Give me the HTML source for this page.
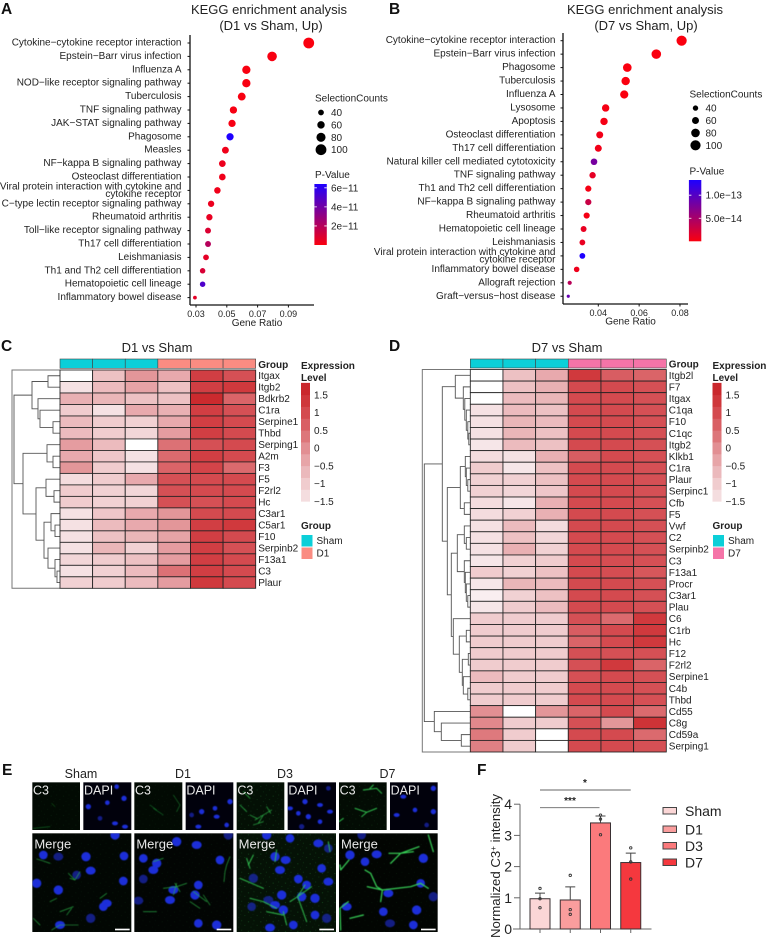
<!DOCTYPE html>
<html lang="en">
<head>
<meta charset="utf-8">
<title>KEGG enrichment, heatmaps and C3 staining figure</title>
<style>
html,body{margin:0;padding:0;background:#fff;}
svg{display:block;font-family:"Liberation Sans",Arial,sans-serif;fill:#222;}
.letter{font-size:15.5px;font-weight:bold;fill:#111;}
.title{font-size:13px;text-anchor:middle;}
</style>
</head>
<body>
<svg id="fig" xmlns="http://www.w3.org/2000/svg" width="766" height="938" viewBox="0 0 766 938">
<defs>
<filter id="soft" x="-5%" y="-5%" width="110%" height="110%"><feGaussianBlur stdDeviation="1.2"/></filter>
<pattern id="speckle" width="37" height="29" patternUnits="userSpaceOnUse">
<rect x="4" y="6" width="3" height="3" fill="#2a9a40"/><rect x="21" y="2" width="2" height="4" fill="#1f7a32"/><rect x="30" y="17" width="3" height="2" fill="#2a9a40"/><rect x="12" y="22" width="2" height="3" fill="#1f7a32"/><rect x="18" y="13" width="2" height="2" fill="#185f28"/>
</pattern>
</defs>
<rect width="766" height="938" fill="#fff"/>
<text class="letter" x="1" y="14">A</text>
<text class="letter" x="389" y="14">B</text>
<text class="letter" x="1" y="351">C</text>
<text class="letter" x="389" y="351">D</text>
<text class="letter" x="2" y="775">E</text>
<text class="letter" x="477" y="775">F</text>
<text class="title" x="269" y="14">KEGG enrichment analysis</text>
<text class="title" x="271" y="30">(D1 vs Sham, Up)</text>
<text class="title" x="645" y="14">KEGG enrichment analysis</text>
<text class="title" x="646" y="30">(D7 vs Sham, Up)</text>
<text class="title" x="157" y="352">D1 vs Sham</text>
<text class="title" x="567" y="352">D7 vs Sham</text>
</svg>
<script>
// ---------- Panel A data ----------
const pathwaysA = ["Cytokine\u2212cytokine receptor interaction","Epstein\u2212Barr virus infection","Influenza A","NOD\u2212like receptor signaling pathway","Tuberculosis","TNF signaling pathway","JAK\u2212STAT signaling pathway","Phagosome","Measles","NF\u2212kappa B signaling pathway","Osteoclast differentiation","Viral protein interaction with cytokine and|cytokine receptor","C\u2212type lectin receptor signaling pathway","Rheumatoid arthritis","Toll\u2212like receptor signaling pathway","Th17 cell differentiation","Leishmaniasis","Th1 and Th2 cell differentiation","Hematopoietic cell lineage","Inflammatory bowel disease"];
const ratioA = [.1032,.0794,.0627,.0627,.0597,.0543,.0534,.0521,.0491,.0471,.0471,.0439,.0398,.0387,.0378,.0378,.0365,.0343,.0343,.0293];
const countA = [100,86,70,70,65,58,58,58,53,51,51,49,47,47,42,42,40,37,37,16];
const pvalA = [0,.05,.05,.05,.05,.1,.1,6.4,.3,.4,.3,.3,.4,.5,.9,2,.6,1,5,.6];
const ticksA = [.03,.05,.07,.09];
const pTicksA = [6,4,2];
const pTickLabelsA = ["6e\u221211","4e\u221211","2e\u221211"];
// ---------- Panel B data ----------
const pathwaysB = ["Cytokine\u2212cytokine receptor interaction","Epstein\u2212Barr virus infection","Phagosome","Tuberculosis","Influenza A","Lysosome","Apoptosis","Osteoclast differentiation","Th17 cell differentiation","Natural killer cell mediated cytotoxicity","TNF signaling pathway","Th1 and Th2 cell differentiation","NF\u2212kappa B signaling pathway","Rheumatoid arthritis","Hematopoietic cell lineage","Leishmaniasis","Viral protein interaction with cytokine and|cytokine receptor","Inflammatory bowel disease","Allograft rejection","Graft\u2212versus\u2212host disease"];
const ratioB = [.0808,.0684,.0542,.0534,.0527,.0436,.0428,.0407,.04,.0379,.0372,.0351,.0351,.0343,.0328,.0322,.0322,.0294,.026,.0253];
const countB = [100,92,80,78,75,65,65,60,60,55,52,50,50,50,47,45,45,42,25,12];
const pvalB = [0,0,0,0,0,.3,.3,.5,.5,8,1.2,.3,3,.3,1,1,13.3,.7,4,9];
const ticksB = [.04,.06,.08];
const pTicksB = [10,5];
const pTickLabelsB = ["1.0e\u221213","5.0e\u221214"];
const sizeLegendCounts = [40,60,80,100];
// ---------- Panel C data ----------
const genesC = ["Itgax","Itgb2","Bdkrb2","C1ra","Serpine1","Thbd","Serping1","A2m","F3","F5","F2rl2","Hc","C3ar1","C5ar1","F10","Serpinb2","F13a1","C3","Plaur"];
const exprC = [
[-1.8,-.8,-.1,-.4,1.2,.9],[-1.4,-.7,-.3,-.8,1.2,1.3],[-.5,-.6,-.8,-.8,1.6,.6],[-1,-1.4,-.4,-.5,1.2,.9],
[-.7,-1,-1.1,-.4,1.2,1],[-.7,-1,-1.2,-.2,1.2,1],[-.2,-.7,-1.8,.4,.9,1],[-.4,-.9,-1.4,.5,1.2,1],[-.1,-1,-1.4,.6,1.1,.5],
[-1.3,-1,-.4,.9,1,1],[-1,-1.1,-1.2,.9,1,1],[-1,-1.1,-1.1,.9,.9,1],[-1.4,-.9,-.4,-.1,1,1],[-1.4,-.7,-.4,-.1,1.2,1.3],
[-1.4,-.8,-.6,-.3,1.2,1],[-1.4,-.6,-1.1,-.2,1.2,.9],[-1.2,-1,-.8,-.2,1.2,1],[-1.4,-1.1,-.7,.4,1.2,1],[-1.1,-1,-.7,-.2,1.3,1]];
const treeC = [46,[28,[12,0,1],[22,2,[20,3,[7,4,5]]]],[37,[13,6,[7,7,8]],[24,[14,9,[6,10,11]],[16,[9,12,[5,13,14]],[12,15,[5,16,[3,17,18]]]]]]];
// ---------- Panel D data ----------
const genesD = ["Itgb2l","F7","Itgax","C1qa","F10","C1qc","Itgb2","Klkb1","C1ra","Plaur","Serpinc1","Cfb","F5","Vwf","C2","Serpinb2","C3","F13a1","Procr","C3ar1","Plau","C6","C1rb","Hc","F12","F2rl2","Serpine1","C4b","Thbd","Cd55","C8g","Cd59a","Serping1"];
const exprD = [
[-1.8,-.8,-.4,1.3,.7,.6],[-1.8,-.8,-.5,1,1,.9],[-1.8,-.7,-.6,1,1,.9],[-1.4,-.7,-.8,1,1,.9],[-1.4,-.6,-.7,1,1,.9],[-1.4,-.6,-.8,1,1,.9],[-1.5,-.7,-.8,1,1,.9],
[-1.3,-1.4,-.5,.7,1,.9],[-1,-1.5,-.8,1,1,.9],[-1.1,-1.1,-.8,1,1,.9],[-1.1,-1.2,-.9,1,1,.9],[-1.3,-1.5,-.5,1,1,.9],[-1.3,-1.1,-.5,1,1,.9],
[-1.4,-.7,-1.3,1,1,.9],[-1.4,-.8,-1.2,1,1,.9],[-1.4,-.5,-1.1,1,1,.9],[-1.5,-1.1,-1,1,.95,.9],[-1,-1.1,-.8,1,.95,.8],[-1.5,-.6,-.7,1,1,.9],[-1.6,-1.1,-.8,1,1,.9],[-1.5,-1,-.7,1,1,.9],
[-1,-1,-1,.9,.5,1.3],[-1,-1,-1,.7,1,1.3],[-1,-1,-1,.6,1,1.3],[-1,-1,-1,.9,.9,.9],[-1,-1,-1,.9,1.3,.6],[-.7,-1,-1,.9,1,.9],[-1,-1,-1,1,1,.9],[-1,-1,-1,1,1,.9],
[0,-1.8,-.1,.6,1,.5],[.1,-1,-1,.9,-.1,1.4],[.3,-1,-1.8,1,1,.5],[.2,-1,-1.8,1,1,.9]];
const treeD = [46,[28,[15,0,[7,1,[5.5,2,[4,3,[2.5,4,[1.5,5,6]]]]]],[23,[10,[5,7,[4,8,[2.5,9,10]]],[6,11,12]],[19,[13,[6,13,[4,14,15]],[6,16,[5,17,[4,18,[2.5,19,20]]]]],[17,21,[11,[4,22,23],[8,[2,24,25],[7,26,[2.5,27,28]]]]]]]],[36,29,[29,30,[9,31,32]]]];
const heatLegendTicks = [1.5,1,.5,0,-.5,-1,-1.5];
const heatStopValues = [-1.8,-1.5,-1,-.5,0,.5,1,1.5,1.85];
const heatStopColors = [[255,255,255],[246,230,232],[240,204,206],[233,176,179],[226,143,147],[219,106,110],[212,74,79],[205,45,49],[198,34,40]];
// ---------- Panel F data ----------
const groupsF = ["Sham","D1","D3","D7"];
const meansF = [.97,.93,3.4,2.13];
const errorsF = [.18,.42,.22,.3];
const pointsF = [[1.3,.97,.68],[1.72,.62,.47],[3.65,3.52,3.02],[2.6,2.15,1.6]];
const coloursF = ["#fbd6d6","#fa9d9d","#fb7a7c","#f5383e"];
const ticksF = [0,1,2,3,4];
// ---------- Panel E micrograph sketch (source-image coordinates at 3x) ----------
const microPanels = [[97,82,143,143,"C3"],[250,82,144,143,"DAPI"],[403,82,144,143,"C3"],[557,82,143,143,"DAPI"],[710,82,143,143,"C3"],[863,82,145,143,"DAPI"],[1017,82,143,143,"C3"],[1170,82,143,143,"DAPI"],[97,235,297,296,"Merge"],[403,235,297,296,"Merge"],[710,235,298,296,"Merge"],[1017,235,296,296,"Merge"]];
const panelGround = ["#020a03","#01010c","#020a03","#01010c","#041005","#01010c","#030c04","#01010c","#020703","#020503","#051206","#020502"];
const panelSpeckle = [.12,0,.1,0,.3,0,.18,0,.1,.1,.35,.1];
const nuclei = [
[[322,143],[372,130],[345,205],[300,190],[265,155],[375,215],[350,95]],
[[645,160],[605,170],[650,185],[575,180],[690,140],[595,215],[680,210]],
[[895,175],[925,185],[960,150],[985,100],[915,140],[990,170],[960,200],[905,215],[870,160]],
[[1245,165],[1300,170],[1190,180],[1280,210],[1300,100],[1210,125]],
[[372,303],[258,305],[272,347],[230,360],[175,405],[320,445],[310,455],[272,490],[180,510],[370,378],[345,240],[175,305],[130,300],[110,385]],
[[430,310],[470,325],[460,345],[430,372],[530,260],[590,270],[660,315],[685,240],[520,405],[595,390],[585,420],[415,437],[595,505],[650,510],[510,435]],
[[870,250],[800,240],[955,265],[985,280],[825,305],[857,315],[965,340],[760,370],[840,345],[895,372],[845,420],[805,435],[920,390],[905,425],[985,380],[755,455],[850,465],[825,450],[945,480],[980,490],[810,518],[880,510],[945,430]],
[[1095,320],[1050,300],[1130,298],[1085,240],[1270,310],[1165,415],[1262,385],[1300,425],[1040,455],[1150,470],[1250,465],[1170,505],[1240,510]]];
const processes = [
["M100 220L150 215M155 145L165 155",1,"#18882f"],
["M520 120L540 150L530 170M460 160L490 180M450 150L470 165",1,"#1e9a38"],
["M765 195L790 180L815 165M790 180L775 205M770 190L750 180M720 150L740 170M730 110L750 130M800 155L812 175M760 210L790 200",1.3,"#30c04e"],
["M1090 105L1130 100L1145 115M1065 160L1100 172L1130 160M1100 172L1085 185M1017 200L1030 190M1110 100L1120 90",1.8,"#35d054"],
["M110 312L130 318L150 325M205 355L225 375L240 350M225 375L210 370M155 525L180 510L235 510M100 490L120 510M215 460L200 480M180 470L220 455M150 440L170 430M300 430L320 415",1.2,"#2cb848"],
["M690 305L680 330L675 350L672 380M460 320L490 310M490 400L530 395L560 385M525 385L540 410M580 410L620 440M530 385L520 420M570 440L600 460M610 420L630 450M430 470L470 470",1.2,"#2cb848"],
["M830 285L825 320M870 440L893 425L935 395M893 425L915 390M893 425L920 500M850 470L860 510M750 430L790 440L830 460M740 310L750 340M985 260L990 290M720 370L790 400M760 300L745 330M800 470L850 480",1.8,"#33c852"],
["M1172 325L1202 295L1257 275M1202 295L1167 295M1202 295L1240 290M1095 345L1112 355L1130 395L1147 405L1232 395L1262 385M1147 405L1142 440M1147 405L1102 395M1262 385L1285 400M1022 345L1047 315M1022 345L1020 330M1020 460L1022 525M1020 460L1045 440M1050 490L1090 480M1285 240L1300 290",2.4,"#38d458"]];
const scaleBarsX = [345,650,958,1263];
const columnTitles = ["Sham","D1","D3","D7"];

const svg = document.getElementById('fig');
const NS = 'http://www.w3.org/2000/svg';
function add(parent, tag, attrs, text){
  const n = document.createElementNS(NS, tag);
  for (const k in attrs) n.setAttribute(k, attrs[k]);
  if (text !== undefined) n.textContent = text;
  parent.appendChild(n);
  return n;
}
function group(name){
  const g = add(svg, 'g', {});
  
  
  return g;
}
function pColour(t){
  const r = Math.round(250 + (30-250)*t), g = 0, b = Math.round(15 + (255-15)*t);
  return 'rgb('+r+','+g+','+b+')';
}
function heatColour(v){
  const s = heatStopValues, c = heatStopColors;
  if (v <= s[0]) return 'rgb(255,255,255)';
  for (let i = 1; i < s.length; i++){
    if (v <= s[i]){
      const f = (v-s[i-1])/(s[i]-s[i-1]);
      const m = c[i-1].map((a,j)=>Math.round(a+(c[i][j]-a)*f));
      return 'rgb('+m.join(',')+')';
    }
  }
  return 'rgb(198,34,40)';
}

// ---------- Dot plots ----------
function dotPlot(cfg){
  const g = group(cfg.name);
  const xS = v => cfg.x0 + (v-cfg.xv0)*cfg.xk;
  const yS = i => cfg.y0 + i*cfg.dy;
  const rS = c => cfg.r0 + cfg.rk*c;
  const yAxis = add(g,'line',{x1:cfg.axisX,x2:cfg.axisX,y1:cfg.axisTop,y2:cfg.axisBottom,stroke:'#111','stroke-width':1.3});
  
  
  const xAxis = add(g,'line',{x1:cfg.axisX,x2:cfg.axisRight,y1:cfg.axisBottom,y2:cfg.axisBottom,stroke:'#111','stroke-width':1.3});
  
  
  cfg.ticks.forEach(t=>{
    const x = xS(t);
    const tk = add(g,'line',{x1:x,x2:x,y1:cfg.axisBottom,y2:cfg.axisBottom+2.5,stroke:'#111','stroke-width':1});
    
    
    const lb = add(g,'text',{x:x,y:cfg.axisBottom+cfg.tickDy,'text-anchor':'middle','font-size':9},t.toFixed(2));
    
    
  });
  const xt = add(g,'text',{x:cfg.xTitleX,y:cfg.xTitleY,'text-anchor':'middle','font-size':10},'Gene Ratio');
  
  
  cfg.labels.forEach((lab,i)=>{
    const y = yS(i);
    const tk = add(g,'line',{x1:cfg.axisX-2.5,x2:cfg.axisX,y1:y,y2:y,stroke:'#111','stroke-width':1});
    
    
    const parts = lab.split('|');
    parts.forEach((p,j)=>{
      const ty = parts.length>1 ? y-1+j*7.8 : y+2.5;
      const t = add(g,'text',{x:cfg.labelX,y:ty,'text-anchor':'end','font-size':10},p);
      
      
    });
    const dot = add(g,'circle',{cx:xS(cfg.ratio[i]),cy:y,r:rS(cfg.count[i]).toFixed(2),fill:pColour(cfg.pval[i]/cfg.pmax)});
    
    
  });
  const st = add(g,'text',{x:cfg.legX,y:cfg.legY,'font-size':10},'SelectionCounts');
  
  
  sizeLegendCounts.forEach((c,i)=>{
    const y = cfg.legY + 10.8 + i*12.4;
    const k = add(g,'circle',{cx:cfg.legX+cfg.keyDx,cy:y,r:rS(c).toFixed(2),fill:'#000'});
    
    
    const t = add(g,'text',{x:cfg.legX+cfg.keyDx+10,y:y+3.5,'font-size':10},String(c));
    
    
  });
  const pt = add(g,'text',{x:cfg.legX,y:cfg.pTitleY,'font-size':10},'P-Value');
  
  
  const gid = cfg.name+'-grad';
  const defs = add(g,'defs',{});
  const lg = add(defs,'linearGradient',{id:gid,x1:0,y1:0,x2:0,y2:1});
  add(lg,'stop',{offset:'0','stop-color':pColour(1)});
  add(lg,'stop',{offset:'1','stop-color':pColour(0)});
  const bar = add(g,'rect',{x:cfg.legX-.6,y:cfg.barTop,width:12.4,height:cfg.barBottom-cfg.barTop,fill:'url(#'+gid+')'});
  
  
  const pS = p => cfg.barBottom-(p/cfg.pmax)*(cfg.barBottom-cfg.barTop);
  cfg.pTicks.forEach((p,i)=>{
    const y = pS(p);
    const w = add(g,'path',{d:'M'+(cfg.legX-.6)+' '+y+'h2.5M'+(cfg.legX+11.8)+' '+y+'h-2.5',stroke:'#fff','stroke-width':.8,fill:'none'});
    
    
    const t = add(g,'text',{x:cfg.legX+16,y:y+3.5,'font-size':10},cfg.pLabels[i]);
    
    
  });
}
dotPlot({name:'dotplot-d1',labels:pathwaysA,ratio:ratioA,count:countA,pval:pvalA,pmax:6.4,ticks:ticksA,pTicks:pTicksA,pLabels:pTickLabelsA,
  x0:196,xv0:.03,xk:1540,y0:43,dy:13.4,axisX:190,axisTop:35,axisBottom:305,axisRight:314,tickDy:12,xTitleX:257,xTitleY:326,labelX:181.5,
  legX:315,legY:101.7,keyDx:6,pTitleY:178,barTop:184,barBottom:245,r0:1.2,rk:.042});
dotPlot({name:'dotplot-d7',labels:pathwaysB,ratio:ratioB,count:countB,pval:pvalB,pmax:13.3,ticks:ticksB,pTicks:pTicksB,pLabels:pTickLabelsB,
  x0:598.3,xv0:.04,xk:2042,y0:40.7,dy:13.45,axisX:563,axisTop:33,axisBottom:304,axisRight:688,tickDy:12,xTitleX:630.5,xTitleY:324.5,labelX:555.5,
  legX:689.5,legY:97.3,keyDx:6,pTitleY:174.3,barTop:180,barBottom:241.3,r0:1.1,rk:.04});

// ---------- Heatmaps ----------
function heatmap(cfg){
  const g = group(cfg.name);
  const cw = (cfg.right-cfg.left)/6, rh = (cfg.bottom-cfg.top)/cfg.genes.length;
  const yS = i => cfg.top + (i+.5)*rh;
  const frame = add(g,'path',{d:'M'+cfg.left+' '+cfg.top+'H'+cfg.frameX+'V'+cfg.bottom+'H'+cfg.left,fill:'none',stroke:'#777','stroke-width':1});
  
  
  function drawNode(n){
    if (typeof n === 'number') return {y:yS(n),h:0};
    const a = drawNode(n[1]), b = drawNode(n[2]);
    const x = cfg.left-n[0];
    const p = add(g,'path',{d:'M'+(cfg.left-a.h)+' '+a.y+'H'+x+'V'+b.y+'H'+(cfg.left-b.h),fill:'none',stroke:'#555','stroke-width':.9});
    
    
    return {y:(a.y+b.y)/2,h:n[0]};
  }
  drawNode(cfg.tree);
  for (let c = 0; c < 6; c++){
    const a = add(g,'rect',{x:cfg.left+c*cw,y:cfg.annTop,width:cw,height:cfg.annBottom-cfg.annTop,fill:c<3?'#0ccfd8':cfg.colour,stroke:'#444','stroke-width':.6});
    
    
  }
  const gl = add(g,'text',{x:cfg.right+2.5,y:cfg.annBottom-.5,'font-size':10,'font-weight':'bold'},'Group');
  
  
  cfg.genes.forEach((gene,r)=>{
    cfg.values[r].forEach((v,c)=>{
      const cell = add(g,'rect',{x:cfg.left+c*cw,y:cfg.top+r*rh,width:cw,height:rh,fill:heatColour(v),stroke:'#222','stroke-width':.85});
      
      
    });
    const t = add(g,'text',{x:cfg.right+2.5,y:yS(r)+3.5,'font-size':10},gene);
    
    
  });
  const lx = cfg.legX;
  const e1 = add(g,'text',{x:lx,y:369,'font-size':10,'font-weight':'bold'},'Expression');
  
  
  const e2 = add(g,'text',{x:lx,y:381,'font-size':10,'font-weight':'bold'},'Level');
  
  
  const zeroY = 448, unit = 35.5;
  for (let i = 0; i < 10; i++){
    const lo = -1.5 + i*.3335, hi = lo + .3335;
    const seg = add(g,'rect',{x:lx,y:zeroY-hi*unit,width:9,height:unit*.3335+.4,fill:heatColour((lo+hi)/2)});
    
    
  }
  heatLegendTicks.forEach(v=>{
    const t = add(g,'text',{x:lx+13,y:zeroY-v*unit+3.5,'font-size':10},String(v).replace('-','\u2212'));
    
    
  });
  const gt = add(g,'text',{x:lx,y:529,'font-size':10,'font-weight':'bold'},'Group');
  
  
  [['Sham','#0ccfd8',535],[cfg.groupName,cfg.colour,547.5]].forEach(k=>{
    const s = add(g,'rect',{x:lx+.5,y:k[2],width:11,height:11.5,fill:k[1]});
    
    
    const l = add(g,'text',{x:lx+15.5,y:k[2]+9,'font-size':10},k[0]);
    
    
  });
}
heatmap({name:'heatmap-d1',genes:genesC,values:exprC,tree:treeC,left:60,right:255.7,top:370,bottom:588.3,annTop:359,annBottom:368.3,frameX:12,colour:'#fa8c82',groupName:'D1',legX:301});
heatmap({name:'heatmap-d7',genes:genesD,values:exprD,tree:treeD,left:470.3,right:666.3,top:369.5,bottom:752,annTop:359,annBottom:368,frameX:422.3,colour:'#f574a8',groupName:'D7',legX:712.5});

// ---------- Panel E ----------
const gE = group('micrographs');
const zoomE = add(gE,'g',{transform:'translate(0 755) scale(.33333)'});
microPanels.forEach((p,i)=>{
  const bg = add(zoomE,'rect',{x:p[0],y:p[1],width:p[2],height:p[3],fill:panelGround[i]});
  
  
  add(zoomE,'clipPath',{id:'clip'+i}).appendChild(bg.cloneNode());
  if (panelSpeckle[i] > 0){
    const sp = add(zoomE,'rect',{x:p[0],y:p[1],width:p[2],height:p[3],fill:'url(#speckle)',opacity:panelSpeckle[i]});
    
    
  }
});
function nucleiIn(list, panelIdx, rx, ry){
  const clip = add(zoomE,'g',{'clip-path':'url(#clip'+panelIdx+')'});
  const layer = add(clip,'g',{fill:'#1a2ed8',filter:'url(#soft)'});
  list.forEach((n,i)=>{
    const e = add(layer,'ellipse',{cx:n[0],cy:n[1],rx:rx+(i%3),ry:ry+((i+1)%3),opacity:i%4===3?.6:1});
    
    
  });
}
function processIn(item, panelIdx){
  const clip = add(zoomE,'g',{'clip-path':'url(#clip'+panelIdx+')'});
  const lines = add(clip,'path',{d:item[0],stroke:item[2],'stroke-width':item[1]*1.5,fill:'none','stroke-linejoin':'round','stroke-linecap':'round',filter:'url(#soft)'});
  
  
}
[1,3,5,7].forEach((p,i)=>nucleiIn(nuclei[i],p,7,6));
[8,9,10,11].forEach((p,i)=>{
  nucleiIn(nuclei[i+4],p,13,12);
  processIn(processes[i+4],p);
});
[0,2,4,6].forEach((p,i)=>processIn(processes[i],p));
microPanels.forEach(p=>{
  const big = p[4]==='Merge';
  const t = add(gE,'text',{x:(p[0]+(big?6:2))/3,y:755+(p[1]+(big?45:36))/3,fill:'#e8e8e8','font-size':big?13:12.5},p[4]);
  
  
});
scaleBarsX.forEach(x=>{
  const b = add(zoomE,'rect',{x:x,y:521,width:44,height:5,fill:'#fff'});
  
  
});
[81,183,285,387.5].forEach((x,i)=>{
  const t = add(gE,'text',{x:x,y:778,'text-anchor':'middle','font-size':12.5},columnTitles[i]);
  
  
});

// ---------- Panel F ----------
const gF = group('c3-bar-chart');
const yF = v => 929 - v*31.2;
const xF = i => 540 + i*30.25;
const barW = 20;
const yAxisF = add(gF,'line',{x1:520,x2:520,y1:yF(4),y2:yF(0),stroke:'#666','stroke-width':1});


const xAxisF = add(gF,'line',{x1:513,x2:651.5,y1:yF(0),y2:yF(0),stroke:'#666','stroke-width':1});


ticksF.forEach(t=>{
  const l = add(gF,'line',{x1:514,x2:520,y1:yF(t),y2:yF(t),stroke:'#666','stroke-width':1});
  
  
  const n = add(gF,'text',{x:512,y:yF(t)+5,'text-anchor':'end','font-size':14},String(t));
  
  
});
const yTitleF = add(gF,'text',{transform:'translate(500 866) rotate(-90)','text-anchor':'middle','font-size':13.2},'Normalized C3');


add(yTitleF,'tspan',{dy:-4,'font-size':8},'+');
add(yTitleF,'tspan',{dy:4},' intensity');
groupsF.forEach((name,i)=>{
  const x = xF(i);
  const bar = add(gF,'rect',{x:x-barW/2,y:yF(meansF[i]),width:barW,height:yF(0)-yF(meansF[i]),fill:coloursF[i],stroke:'#3a3033','stroke-width':1});
  
  
  const top = yF(meansF[i]+errorsF[i]);
  const err = add(gF,'path',{d:'M'+x+' '+yF(meansF[i])+'V'+top+'M'+(x-5)+' '+top+'H'+(x+5),stroke:'#444','stroke-width':1,fill:'none'});
  
  
  const tick = add(gF,'line',{x1:x,x2:x,y1:yF(0),y2:yF(0)+4,stroke:'#666','stroke-width':1});
  
  
  pointsF[i].forEach(v=>{
    const p = add(gF,'circle',{cx:x,cy:yF(v),r:1.2,fill:'none',stroke:'#333','stroke-width':.9});
    
    
  });
  const ly = [811,829.5,846,862.5][i];
  const sw = add(gF,'rect',{x:663,y:ly-3.5,width:13.5,height:6.5,fill:coloursF[i],stroke:'#444','stroke-width':1});
  
  
  const lt = add(gF,'text',{x:685,y:ly+5,'font-size':14},name);
  
  
});
const sig1 = add(gF,'line',{x1:xF(0),x2:xF(3),y1:790,y2:790,stroke:'#666','stroke-width':.9});


const sig2 = add(gF,'line',{x1:xF(0),x2:xF(2)-1,y1:807.7,y2:807.7,stroke:'#666','stroke-width':.9});


const star1 = add(gF,'text',{x:585,y:786,'text-anchor':'middle','font-size':10,'font-weight':'bold'},'*');


const star2 = add(gF,'text',{x:570,y:804,'text-anchor':'middle','font-size':10,'font-weight':'bold'},'***');


</script>
</body>
</html>
